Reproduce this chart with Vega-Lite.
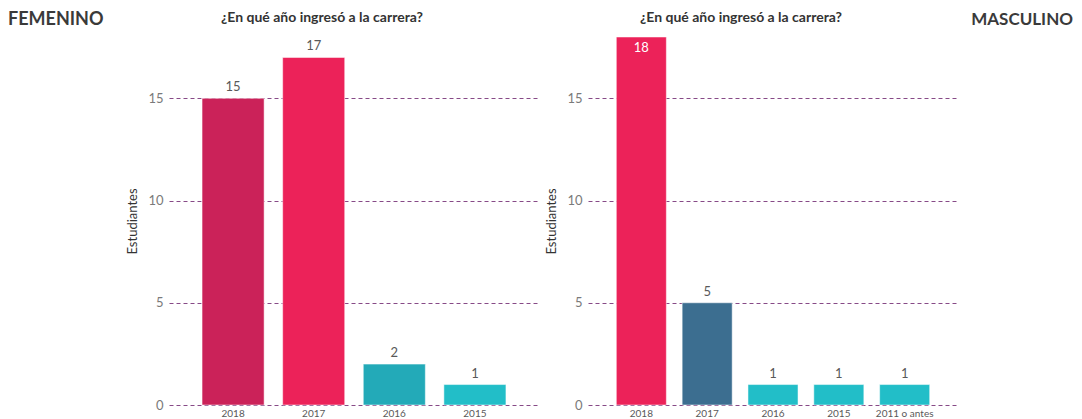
{
  "$schema": "https://vega.github.io/schema/vega-lite/v6.json",
  "background": "white",
  "padding": {"left": 8, "top": 10, "right": 0, "bottom": 0},
  "spacing": 6,
  "resolve": {"scale": {"color": "independent"}},
  "config": {
    "font": "Lato",
    "view": {"stroke": null},
    "title": {"font": "Lato", "fontWeight": "bold", "color": "#333333"}
  },
  "datasets": {
    "fem": [
      {"anio": "2018", "n": 15, "key": "F2018"},
      {"anio": "2017", "n": 17, "key": "F2017"},
      {"anio": "2016", "n": 2, "key": "F2016"},
      {"anio": "2015", "n": 1, "key": "F2015"}
    ],
    "masc": [
      {"anio": "2018", "n": 18, "key": "M2018"},
      {"anio": "2017", "n": 5, "key": "M2017"},
      {"anio": "2016", "n": 1, "key": "M2016"},
      {"anio": "2015", "n": 1, "key": "M2015"},
      {"anio": "2011 o antes", "n": 1, "key": "M2011"}
    ],
    "empty": []
  },
  "hconcat": [
    {
      "data": {"name": "empty"},
      "width": 112,
      "height": 368,
      "title": {"text": "FEMENINO", "anchor": "start", "fontSize": 18, "offset": 8, "color": "#3a3a3a"},
      "mark": "text",
      "encoding": {}
    },
    {
      "data": {"name": "fem"},
      "width": 370,
      "height": 368,
      "title": {"text": "¿En qué año ingresó a la carrera?", "fontSize": 14, "offset": 12, "dx": -32},
      "encoding": {
        "x": {
          "field": "anio", "type": "nominal", "sort": null,
          "scale": {"paddingInner": 0.23, "paddingOuter": 0.41},
          "axis": {"title": null, "labelAngle": 0, "ticks": false, "domain": false, "labelFontSize": 10, "labelColor": "#595959", "labelPadding": 3}
        },
        "y": {
          "field": "n", "type": "quantitative",
          "scale": {"domain": [0, 18], "nice": false},
          "axis": {"title": "Estudiantes", "values": [0, 5, 10, 15], "ticks": false, "domain": false,
            "grid": true, "gridColor": "#874a87", "gridDash": [4, 3], "gridWidth": 1,
            "labelFontSize": 13, "labelColor": "#7a7a7a", "labelPadding": 6,
            "titleFontSize": 13, "titleFontWeight": "normal", "titleColor": "#333333", "titlePadding": 8}
        }
      },
      "layer": [
        {
          "mark": {"type": "bar", "stroke": "#ffffff", "strokeOpacity": 0.5, "strokeWidth": 1},
          "encoding": {
            "color": {"field": "key", "type": "nominal", "legend": null,
              "scale": {"domain": ["F2018", "F2017", "F2016", "F2015"], "range": ["#cb2259", "#ec2259", "#23aab8", "#22bec8"]}}
          }
        },
        {
          "mark": {"type": "text", "baseline": "bottom", "dy": -4, "fontSize": 13, "color": "#595959"},
          "encoding": {"text": {"field": "n", "type": "quantitative"}}
        }
      ]
    },
    {
      "data": {"name": "masc"},
      "width": 370,
      "height": 368,
      "title": {"text": "¿En qué año ingresó a la carrera?", "fontSize": 14, "offset": 12, "dx": -32},
      "encoding": {
        "x": {
          "field": "anio", "type": "nominal", "sort": null,
          "scale": {"paddingInner": 0.24, "paddingOuter": 0.43},
          "axis": {"title": null, "labelAngle": 0, "ticks": false, "domain": false, "labelFontSize": 10, "labelColor": "#595959", "labelPadding": 3}
        },
        "y": {
          "field": "n", "type": "quantitative",
          "scale": {"domain": [0, 18], "nice": false},
          "axis": {"title": "Estudiantes", "values": [0, 5, 10, 15], "ticks": false, "domain": false,
            "grid": true, "gridColor": "#874a87", "gridDash": [4, 3], "gridWidth": 1,
            "labelFontSize": 13, "labelColor": "#7a7a7a", "labelPadding": 6,
            "titleFontSize": 13, "titleFontWeight": "normal", "titleColor": "#333333", "titlePadding": 8}
        }
      },
      "layer": [
        {
          "mark": {"type": "bar", "stroke": "#ffffff", "strokeOpacity": 0.5, "strokeWidth": 1},
          "encoding": {
            "color": {"field": "key", "type": "nominal", "legend": null,
              "scale": {"domain": ["M2018", "M2017", "M2016", "M2015", "M2011"], "range": ["#ec2259", "#3c6e90", "#22bec8", "#22bec8", "#22bec8"]}}
          }
        },
        {
          "transform": [{"filter": "datum.n < 18"}],
          "mark": {"type": "text", "baseline": "bottom", "dy": -4, "fontSize": 13, "color": "#595959"},
          "encoding": {"text": {"field": "n", "type": "quantitative"}}
        },
        {
          "transform": [{"filter": "datum.n >= 18"}],
          "mark": {"type": "text", "baseline": "top", "dy": 5, "fontSize": 13, "color": "#ffffff"},
          "encoding": {"text": {"field": "n", "type": "quantitative"}}
        }
      ]
    },
    {
      "data": {"name": "empty"},
      "width": 109,
      "height": 368,
      "title": {"text": "MASCULINO", "anchor": "end", "fontSize": 17, "offset": 8, "color": "#3a3a3a"},
      "mark": "text",
      "encoding": {}
    }
  ]
}
